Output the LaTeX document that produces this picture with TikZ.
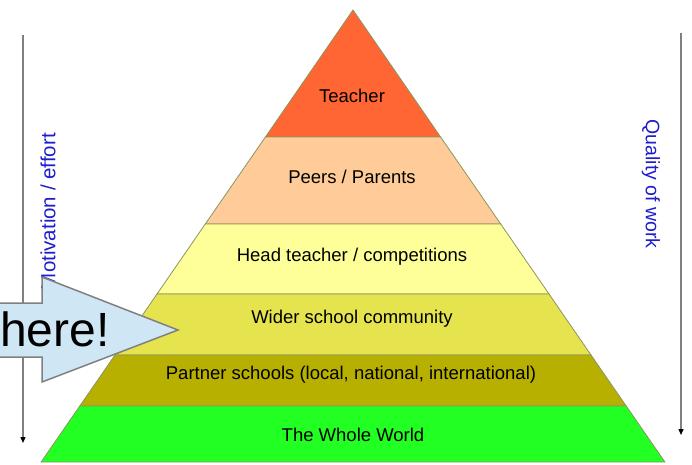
\documentclass[tikz,border=0pt]{standalone}
\usepackage{fontspec}
\setmainfont{Liberation Sans}
\usetikzlibrary{arrows.meta}
\definecolor{teacherc}{HTML}{FF6633}
\definecolor{peersc}{HTML}{FFCC99}
\definecolor{headc}{HTML}{FFFF99}
\definecolor{widerc}{HTML}{E6E44E}
\definecolor{partnerc}{HTML}{B8B000}
\definecolor{worldc}{HTML}{22FF22}
\definecolor{edgec}{HTML}{8C9460}
\definecolor{sidec}{HTML}{1E1ECC}
\definecolor{axisc}{HTML}{808080}
\definecolor{arrowfill}{HTML}{CFE6F5}
\definecolor{arrowedge}{HTML}{808080}
\begin{document}
\begin{tikzpicture}[x=1pt,y=-1pt,
  layer/.style={draw=edgec, line width=0.8pt, line join=miter},
  lbl/.style={font=\fontsize{18.5}{22}\selectfont, text=black, inner sep=0pt},
  side/.style={font=\fontsize{19.5}{22}\selectfont, text=sidec, inner sep=0pt},
  axis/.style={draw=axisc, line width=1.3pt, -{Triangle[width=5pt,length=6pt,color=black]}},
  herearrow/.style={draw=arrowedge, fill=arrowfill, line width=1.5pt, line join=miter}]
\useasboundingbox (0,0) rectangle (692,464);
\fill[white] (0,0) rectangle (692,464);
\clip (0,0) rectangle (692,464);
% axes
\coordinate (ltop) at (23,35);
\coordinate (lbot) at (23,443);
\draw[axis] (ltop) -- (lbot);
\coordinate (rtop) at (681,33);
\coordinate (rbot) at (681,435);
\draw[axis] (rtop) -- (rbot);
\node[side, font=\fontsize{20.5}{22}\selectfont, rotate=90, anchor=east] (motiv) at (48,133) {Motivation / effort};
\node[side, rotate=-90] (quality) at (651,184) {Quality of work};
% pyramid
\coordinate (apex) at (353,10);
\coordinate (l1) at (265.4,137); \coordinate (r1) at (440.6,137);
\coordinate (l2) at (205.3,224); \coordinate (r2) at (500.7,224);
\coordinate (l3) at (157,294);   \coordinate (r3) at (549,294);
\coordinate (l4) at (115,355);   \coordinate (r4) at (591,355);
\coordinate (l5) at (79.8,406);  \coordinate (r5) at (626.2,406);
\coordinate (l6) at (41.1,462);  \coordinate (r6) at (664.9,462);
\filldraw[layer, fill=teacherc] (apex) -- (r1) -- (l1) -- cycle;
\filldraw[layer, fill=peersc] (l1) -- (r1) -- (r2) -- (l2) -- cycle;
\filldraw[layer, fill=headc] (l2) -- (r2) -- (r3) -- (l3) -- cycle;
\filldraw[layer, fill=widerc] (l3) -- (r3) -- (r4) -- (l4) -- cycle;
\filldraw[layer, fill=partnerc] (l4) -- (r4) -- (r5) -- (l5) -- cycle;
\filldraw[layer, fill=worldc] (l5) -- (r5) -- (r6) -- (l6) -- cycle;
\node[lbl] (teacher) at (352,96) {Teacher};
\node[lbl] (peers) at (352,177) {Peers / Parents};
\node[lbl] (head) at (352,257) {Head teacher / competitions};
\node[lbl] (wider) at (352,319) {Wider school community};
\node[lbl] (partner) at (351,375) {Partner schools (local, national, international)};
\node[lbl] (world) at (353,435) {The Whole World};
% here arrow
\filldraw[herearrow] (-10,303) -- (42,303) -- (42,277) -- (178,330) -- (42,382) -- (42,357) -- (-10,357) -- cycle;
\node[font=\fontsize{48}{52}\selectfont, inner sep=0pt, anchor=base west] (here) at (0,346) {here!};
\end{tikzpicture}
\end{document}
